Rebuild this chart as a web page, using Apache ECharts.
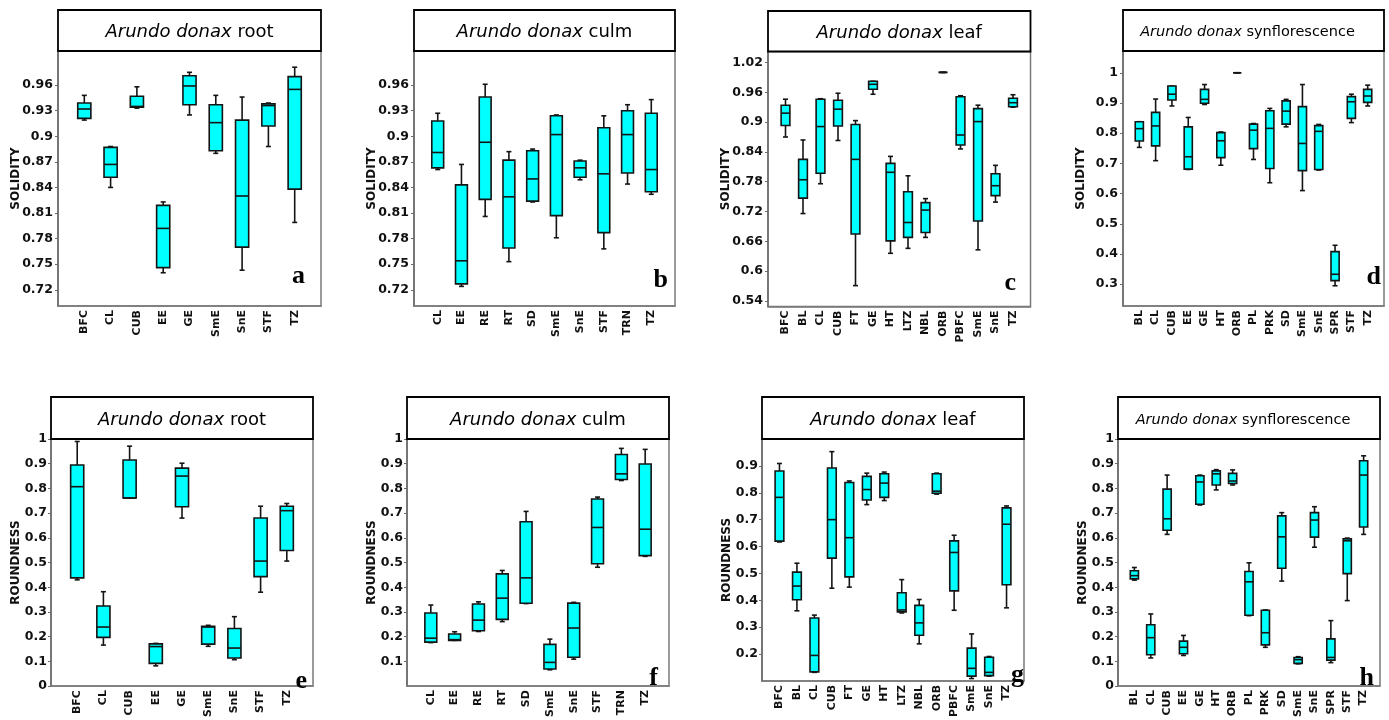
<!DOCTYPE html>
<html>
<head>
<meta charset="utf-8">
<script src="https://cdn.jsdelivr.net/npm/echarts@6/dist/echarts.min.js"></script>
<style>
  html, body { margin: 0; padding: 0; background: #fff; }
  #chart { width: 1389px; height: 720px; }
</style>
</head>
<body>
<div id="chart"></div>
<script>
// Box values are [min, Q1, median, Q3, max]
const rootCats = ['BFC', 'CL', 'CUB', 'EE', 'GE', 'SmE', 'SnE', 'STF', 'TZ'];
const culmCats = ['CL', 'EE', 'RE', 'RT', 'SD', 'SmE', 'SnE', 'STF', 'TRN', 'TZ'];
const leafCats = ['BFC', 'BL', 'CL', 'CUB', 'FT', 'GE', 'HT', 'LTZ', 'NBL', 'ORB', 'PBFC', 'SmE', 'SnE', 'TZ'];
const synCats = ['BL', 'CL', 'CUB', 'EE', 'GE', 'HT', 'ORB', 'PL', 'PRK', 'SD', 'SmE', 'SnE', 'SPR', 'STF', 'TZ'];

const rootSolidity = [
  [0.919, 0.921, 0.932, 0.939, 0.948],
  [0.840, 0.852, 0.867, 0.887, 0.888],
  [0.933, 0.934, 0.935, 0.947, 0.958],
  [0.740, 0.746, 0.792, 0.819, 0.823],
  [0.925, 0.937, 0.959, 0.971, 0.975],
  [0.880, 0.883, 0.916, 0.937, 0.948],
  [0.743, 0.770, 0.830, 0.919, 0.946],
  [0.888, 0.912, 0.936, 0.938, 0.939],
  [0.799, 0.838, 0.955, 0.970, 0.981]
];
const culmSolidity = [
  [0.861, 0.863, 0.881, 0.918, 0.927],
  [0.724, 0.727, 0.754, 0.843, 0.867],
  [0.806, 0.826, 0.893, 0.946, 0.961],
  [0.753, 0.769, 0.829, 0.872, 0.882],
  [0.823, 0.824, 0.850, 0.883, 0.885],
  [0.781, 0.807, 0.902, 0.924, 0.925],
  [0.849, 0.852, 0.863, 0.871, 0.872],
  [0.768, 0.787, 0.856, 0.910, 0.924],
  [0.844, 0.857, 0.902, 0.930, 0.937],
  [0.832, 0.835, 0.861, 0.927, 0.943]
];
const leafSolidity = [
  [0.870, 0.893, 0.918, 0.934, 0.946],
  [0.716, 0.747, 0.784, 0.825, 0.864],
  [0.776, 0.797, 0.891, 0.946, 0.947],
  [0.863, 0.892, 0.926, 0.944, 0.958],
  [0.571, 0.675, 0.825, 0.895, 0.903],
  [0.956, 0.966, 0.976, 0.982, 0.982],
  [0.636, 0.661, 0.799, 0.817, 0.831],
  [0.646, 0.668, 0.698, 0.760, 0.792],
  [0.668, 0.678, 0.723, 0.738, 0.746],
  [1.000, 1.000, 1.000, 1.000, 1.000],
  [0.846, 0.854, 0.874, 0.951, 0.953],
  [0.643, 0.701, 0.901, 0.927, 0.934],
  [0.739, 0.752, 0.772, 0.796, 0.813],
  [0.930, 0.931, 0.939, 0.948, 0.955]
];
const synSolidity = [
  [0.753, 0.774, 0.815, 0.838, 0.838],
  [0.709, 0.758, 0.824, 0.869, 0.913],
  [0.890, 0.910, 0.929, 0.956, 0.956],
  [0.680, 0.681, 0.722, 0.821, 0.852],
  [0.895, 0.899, 0.912, 0.945, 0.961],
  [0.694, 0.719, 0.775, 0.802, 0.804],
  [1.000, 1.000, 1.000, 1.000, 1.000],
  [0.713, 0.749, 0.810, 0.830, 0.832],
  [0.636, 0.683, 0.816, 0.874, 0.882],
  [0.821, 0.830, 0.873, 0.907, 0.912],
  [0.610, 0.676, 0.766, 0.888, 0.961],
  [0.678, 0.680, 0.806, 0.825, 0.829],
  [0.295, 0.312, 0.333, 0.408, 0.429],
  [0.835, 0.849, 0.904, 0.921, 0.929],
  [0.890, 0.902, 0.923, 0.945, 0.959]
];

const rootRoundness = [
  [0.430, 0.438, 0.807, 0.895, 0.990],
  [0.166, 0.197, 0.239, 0.324, 0.382],
  [0.761, 0.761, 0.761, 0.915, 0.971],
  [0.082, 0.092, 0.160, 0.171, 0.173],
  [0.680, 0.726, 0.850, 0.882, 0.902],
  [0.161, 0.170, 0.239, 0.242, 0.246],
  [0.107, 0.114, 0.154, 0.233, 0.281],
  [0.380, 0.443, 0.506, 0.680, 0.728],
  [0.506, 0.549, 0.710, 0.728, 0.739]
];
const culmRoundness = [
  [0.176, 0.178, 0.194, 0.296, 0.328],
  [0.185, 0.185, 0.188, 0.211, 0.220],
  [0.221, 0.224, 0.267, 0.332, 0.341],
  [0.261, 0.270, 0.356, 0.454, 0.468],
  [0.334, 0.335, 0.438, 0.665, 0.707],
  [0.066, 0.069, 0.096, 0.169, 0.190],
  [0.109, 0.117, 0.235, 0.336, 0.339],
  [0.481, 0.495, 0.642, 0.757, 0.765],
  [0.832, 0.836, 0.859, 0.937, 0.962],
  [0.525, 0.528, 0.635, 0.899, 0.958]
];
const leafRoundness = [
  [0.617, 0.620, 0.783, 0.881, 0.909],
  [0.361, 0.402, 0.453, 0.505, 0.538],
  [0.132, 0.134, 0.195, 0.334, 0.345],
  [0.445, 0.557, 0.700, 0.892, 0.953],
  [0.449, 0.487, 0.633, 0.838, 0.844],
  [0.756, 0.773, 0.812, 0.861, 0.873],
  [0.771, 0.783, 0.836, 0.871, 0.877],
  [0.353, 0.357, 0.364, 0.428, 0.477],
  [0.238, 0.270, 0.316, 0.381, 0.403],
  [0.795, 0.798, 0.806, 0.871, 0.873],
  [0.363, 0.435, 0.578, 0.621, 0.642],
  [0.109, 0.118, 0.147, 0.222, 0.275],
  [0.118, 0.120, 0.132, 0.188, 0.191],
  [0.372, 0.458, 0.683, 0.744, 0.751]
];
const synRoundness = [
  [0.429, 0.434, 0.447, 0.467, 0.480],
  [0.114, 0.127, 0.196, 0.248, 0.292],
  [0.614, 0.631, 0.677, 0.797, 0.854],
  [0.124, 0.131, 0.157, 0.182, 0.205],
  [0.733, 0.736, 0.826, 0.851, 0.854],
  [0.794, 0.814, 0.859, 0.871, 0.876],
  [0.814, 0.820, 0.830, 0.861, 0.875],
  [0.285, 0.287, 0.422, 0.464, 0.499],
  [0.157, 0.167, 0.216, 0.307, 0.308],
  [0.425, 0.477, 0.604, 0.689, 0.702],
  [0.090, 0.092, 0.107, 0.116, 0.119],
  [0.562, 0.603, 0.672, 0.702, 0.726],
  [0.095, 0.105, 0.116, 0.191, 0.265],
  [0.346, 0.455, 0.588, 0.596, 0.599],
  [0.614, 0.644, 0.854, 0.912, 0.932]
];

// tick labels on the y axes
const rootCulmSolidityTicks = [0.72, 0.75, 0.78, 0.81, 0.84, 0.87, 0.9, 0.93, 0.96];
const leafSolidityTicks = [0.54, 0.6, 0.66, 0.72, 0.78, 0.84, 0.9, 0.96, 1.02];
const synSolidityTicks = [0.3, 0.4, 0.5, 0.6, 0.7, 0.8, 0.9, 1];
const roundnessTicks = [0, 0.1, 0.2, 0.3, 0.4, 0.5, 0.6, 0.7, 0.8, 0.9, 1];
const culmRoundnessTicks = [0.1, 0.2, 0.3, 0.4, 0.5, 0.6, 0.7, 0.8, 0.9, 1];
const leafRoundnessTicks = [0.2, 0.3, 0.4, 0.5, 0.6, 0.7, 0.8, 0.9];

const panels = [
  { cats: rootCats, boxes: rootSolidity, ticks: rootCulmSolidityTicks, yMin: 0.701, yMax: 1.0, organ: 'root', yName: 'SOLIDITY', letter: 'a',
    left: 58, top: 51, width: 263, height: 255, titleTop: 10, letterX: 305, letterY: 289 },
  { cats: culmCats, boxes: culmSolidity, ticks: rootCulmSolidityTicks, yMin: 0.701, yMax: 1.0, organ: 'culm', yName: 'SOLIDITY', letter: 'b',
    left: 414, top: 51, width: 261, height: 255, titleTop: 10, letterX: 668, letterY: 293 },
  { cats: leafCats, boxes: leafSolidity, ticks: leafSolidityTicks, yMin: 0.529, yMax: 1.042, organ: 'leaf', yName: 'SOLIDITY', letter: 'c',
    left: 768, top: 51.5, width: 262.5, height: 255, titleTop: 11, letterX: 1016, letterY: 296 },
  { cats: synCats, boxes: synSolidity, ticks: synSolidityTicks, yMin: 0.228, yMax: 1.072, organ: 'synflorescence', yName: 'SOLIDITY', letter: 'd',
    left: 1123, top: 51, width: 261, height: 255, titleTop: 10, letterX: 1381, letterY: 290 },
  { cats: rootCats, boxes: rootRoundness, ticks: roundnessTicks, yMin: 0, yMax: 1, organ: 'root', yName: 'ROUNDNESS', letter: 'e',
    left: 51, top: 439, width: 262, height: 256, titleTop: 397, letterX: 307, letterY: 694 },
  { cats: culmCats, boxes: culmRoundness, ticks: culmRoundnessTicks, yMin: 0, yMax: 1, organ: 'culm', yName: 'ROUNDNESS', letter: 'f',
    left: 407, top: 439, width: 262, height: 256, titleTop: 397, letterX: 658, letterY: 691 },
  { cats: leafCats, boxes: leafRoundness, ticks: leafRoundnessTicks, yMin: 0.1, yMax: 1, organ: 'leaf', yName: 'ROUNDNESS', letter: 'g',
    left: 762, top: 439, width: 262, height: 256, titleTop: 397, letterX: 1024, letterY: 688 },
  { cats: synCats, boxes: synRoundness, ticks: roundnessTicks, yMin: 0, yMax: 1, organ: 'synflorescence', yName: 'ROUNDNESS', letter: 'h',
    left: 1118, top: 439, width: 262, height: 256, titleTop: 397, letterX: 1374, letterY: 691 }
];

const FONT = '"DejaVu Sans", Verdana, sans-serif';
const fmt = v => String(+Number(v).toFixed(2));

// Draw one box: whiskers with short caps, cyan box and median bar
function renderBox(params, api) {
  const x = api.value(0);
  const half = api.size([1, 0])[0] * 0.25;
  const cap = 2.5;
  const lo = api.coord([x, api.value(1)]);
  const q1 = api.coord([x, api.value(2)]);
  const md = api.coord([x, api.value(3)]);
  const q3 = api.coord([x, api.value(4)]);
  const hi = api.coord([x, api.value(5)]);
  const cx = lo[0];
  const stroke = { stroke: '#141414', lineWidth: 1.6 };
  return {
    type: 'group',
    children: [
      { type: 'line', shape: { x1: cx, y1: hi[1], x2: cx, y2: q3[1] }, style: stroke },
      { type: 'line', shape: { x1: cx, y1: q1[1], x2: cx, y2: lo[1] }, style: stroke },
      { type: 'line', shape: { x1: cx - cap, y1: hi[1], x2: cx + cap, y2: hi[1] }, style: stroke },
      { type: 'line', shape: { x1: cx - cap, y1: lo[1], x2: cx + cap, y2: lo[1] }, style: stroke },
      { type: 'rect', shape: { x: cx - half, y: q3[1], width: half * 2, height: q1[1] - q3[1] },
        style: { fill: '#00ffff', stroke: '#141414', lineWidth: 1.6 } },
      { type: 'line', shape: { x1: cx - half, y1: md[1], x2: cx + half, y2: md[1] }, style: stroke }
    ]
  };
}

const grids = [], xAxes = [], yAxes = [], series = [], graphics = [];

panels.forEach((p, i) => {
  const topRow = i < 4;
  grids.push({
    left: p.left, top: p.top, width: p.width, height: p.height,
    show: true, borderColor: '#7a7a7a', borderWidth: 1.5, backgroundColor: '#fff'
  });
  xAxes.push({
    gridIndex: i, type: 'value', min: -1, max: p.cats.length, interval: 1,
    splitLine: { show: false },
    axisTick: { show: false },
    axisLine: { onZero: false, lineStyle: { color: '#7a7a7a', width: 1.5 } },
    axisLabel: {
      rotate: 90, margin: 4, color: '#111', fontFamily: FONT, fontWeight: 'bold', fontSize: 11,
      showMinLabel: true, showMaxLabel: true,
      formatter: v => p.cats[Math.round(v)] || ''
    }
  });
  yAxes.push({
    gridIndex: i, type: 'value', min: p.yMin, max: p.yMax,
    name: p.yName, nameLocation: 'middle', nameGap: topRow ? 36 : 29, nameMoveOverlap: false,
    nameTextStyle: { color: '#111', fontFamily: FONT, fontWeight: 'bold', fontSize: 12 },
    splitLine: { show: false },
    axisLine: { show: true, onZero: false, lineStyle: { color: '#6a6a6a', width: 1.5 } },
    axisTick: { show: true, length: 3, customValues: p.ticks, lineStyle: { color: '#6a6a6a' } },
    axisLabel: {
      customValues: p.ticks, margin: topRow ? 5 : 4, color: '#111', fontFamily: FONT,
      fontWeight: 'bold', fontSize: 12.5, formatter: fmt
    }
  });
  series.push({
    type: 'custom', xAxisIndex: i, yAxisIndex: i,
    renderItem: renderBox,
    encode: { x: 0, y: [1, 2, 3, 4, 5] },
    data: p.boxes.map((b, k) => [k].concat(b))
  });

  // title box on top of the plot
  const titleH = p.top - p.titleTop;
  const syn = p.organ === 'synflorescence';
  graphics.push({
    type: 'rect', z: 100,
    shape: { x: p.left, y: p.titleTop, width: p.width, height: titleH },
    style: { fill: '#fff', stroke: '#000', lineWidth: 1.8 }
  });
  graphics.push({
    type: 'text', z: 101,
    style: {
      x: p.left + p.width / 2 + (syn ? -6 : 0), y: p.titleTop + titleH / 2 + 2,
      text: '{i|Arundo donax} ' + p.organ,
      align: 'center', verticalAlign: 'middle',
      fontFamily: FONT, fontSize: syn ? 14.5 : 18, fill: '#000',
      rich: { i: { fontStyle: 'italic', fontFamily: FONT, fontSize: syn ? 14.5 : 18 } }
    }
  });
  // panel letter
  graphics.push({
    type: 'text', z: 101,
    style: {
      x: p.letterX, y: p.letterY, text: p.letter,
      align: 'right', verticalAlign: 'bottom',
      font: 'bold 26px "Liberation Serif", "Times New Roman", serif', fill: '#000'
    }
  });
});

const chart = echarts.init(document.getElementById('chart'));
chart.setOption({
  backgroundColor: '#fff',
  animation: false,
  grid: grids,
  xAxis: xAxes,
  yAxis: yAxes,
  series: series,
  graphic: { elements: graphics }
});
</script>
</body>
</html>
